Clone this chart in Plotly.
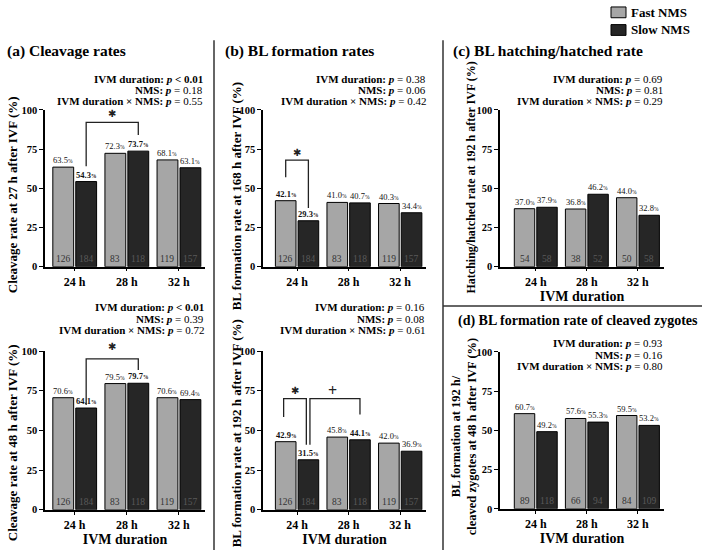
import plotly.graph_objects as go

# ---------------- data ----------------
categories = ["24 h", "28 h", "32 h"]
y_ticks = [0, 25, 50, 75, 100]

cleav27_fast = [63.5, 72.3, 68.1]
cleav27_slow = [54.3, 73.7, 63.1]
cleav48_fast = [70.6, 79.5, 70.6]
cleav48_slow = [64.1, 79.7, 69.4]
bl168_fast = [42.1, 41.0, 40.3]
bl168_slow = [29.3, 40.7, 34.4]
bl192_fast = [42.9, 45.8, 42.0]
bl192_slow = [31.5, 44.1, 36.9]
hatch_fast = [37.0, 36.8, 44.0]
hatch_slow = [37.9, 46.2, 32.8]
blcleav_fast = [60.7, 57.6, 59.5]
blcleav_slow = [49.2, 55.3, 53.2]

n_oocytes_fast = [126, 83, 119]
n_oocytes_slow = [184, 118, 157]
n_blast_fast = [54, 38, 50]
n_blast_slow = [58, 52, 58]
n_cleaved_fast = [89, 66, 84]
n_cleaved_slow = [118, 94, 109]

# ---------------- styling helpers ----------------
W, H = 702, 556
FONT = "Liberation Serif"
FAST_COLOR = "#a6a6a6"
SLOW_COLOR = "#262626"


def px(x):
    return x / W


def py(y):
    return 1 - y / H


def pline(label, op, val, bold_val=False):
    v = f"{op} {val}"
    if bold_val:
        return f"<b>{label}:</b> <b><i>p</i> {v}</b>"
    return f"<b>{label}:</b> <b><i>p</i></b> {v}"


panels = [
    dict(fast=cleav27_fast, slow=cleav27_slow, nf=n_oocytes_fast, ns=n_oocytes_slow,
         bold_fast=[], bold_slow=[0, 1],
         xd=(45, 205), yd=(107, 267), xr=(-0.57, 2.5),
         ytitle="<b>Cleavage rate at 27 h after IVF (%)</b>", yt_xy=(12, 194), yt_size=13,
         xtitle=False,
         plines=[pline("IVM duration", "&lt;", "0.01", True), pline("NMS", "=", "0.18"),
                 pline("IVM duration × NMS", "=", "0.55")],
         p_right=205, p_y=[75, 86.5, 98]),
    dict(fast=bl168_fast, slow=bl168_slow, nf=n_oocytes_fast, ns=n_oocytes_slow,
         bold_fast=[0], bold_slow=[0],
         xd=(263, 426), yd=(107, 267), xr=(-0.66, 2.5),
         ytitle="<b>BL formation rate at 168 h after IVF (%)</b>", yt_xy=(236, 195), yt_size=13,
         xtitle=False,
         plines=[pline("IVM duration", "=", "0.38"), pline("NMS", "=", "0.06"),
                 pline("IVM duration × NMS", "=", "0.42")],
         p_right=428, p_y=[75, 86.5, 98]),
    dict(fast=hatch_fast, slow=hatch_slow, nf=n_blast_fast, ns=n_blast_slow,
         bold_fast=[], bold_slow=[],
         xd=(500, 664), yd=(107, 267), xr=(-0.7, 2.51),
         ytitle="<b>Hatching/hatched rate at 192 h after IVF (%)</b>", yt_xy=(471, 176), yt_size=12,
         xtitle=True,
         plines=[pline("IVM duration", "=", "0.69"), pline("NMS", "=", "0.81"),
                 pline("IVM duration × NMS", "=", "0.29")],
         p_right=665, p_y=[75, 86.5, 98]),
    dict(fast=cleav48_fast, slow=cleav48_slow, nf=n_oocytes_fast, ns=n_oocytes_slow,
         bold_fast=[], bold_slow=[0, 1],
         xd=(45, 205), yd=(353, 515), xr=(-0.57, 2.5),
         ytitle="<b>Cleavage rate at 48 h after IVF (%)</b>", yt_xy=(12, 447), yt_size=13,
         xtitle=True,
         plines=[pline("IVM duration", "&lt;", "0.01", True), pline("NMS", "=", "0.39"),
                 pline("IVM duration × NMS", "=", "0.72")],
         p_right=206, p_y=[308, 320, 332]),
    dict(fast=bl192_fast, slow=bl192_slow, nf=n_oocytes_fast, ns=n_oocytes_slow,
         bold_fast=[0], bold_slow=[0, 1],
         xd=(263, 426), yd=(353, 515), xr=(-0.66, 2.5),
         ytitle="<b>BL formation rate at 192 h after IVF (%)</b>", yt_xy=(236, 437), yt_size=13,
         xtitle=True,
         plines=[pline("IVM duration", "=", "0.16"), pline("NMS", "=", "0.08"),
                 pline("IVM duration × NMS", "=", "0.61")],
         p_right=427, p_y=[308, 320, 332]),
    dict(fast=blcleav_fast, slow=blcleav_slow, nf=n_cleaved_fast, ns=n_cleaved_slow,
         bold_fast=[], bold_slow=[],
         xd=(500, 664), yd=(354, 514), xr=(-0.7, 2.51),
         ytitle="<b>BL formation at 192 h/<br>cleaved zygotes at 48 h after IVF (%)</b>",
         yt_xy=(464, 440), yt_size=12.5,
         xtitle=True,
         plines=[pline("IVM duration", "=", "0.93"), pline("NMS", "=", "0.16"),
                 pline("IVM duration × NMS", "=", "0.80")],
         p_right=665, p_y=[345, 357, 368.5]),
]

# significance brackets per panel: (panel index, path points [(x, y)...])
brackets = [
    (0, [(0.22, 64), (0.22, 92), (1.22, 92), (1.22, 84)]),
    (1, [(-0.22, 57), (-0.22, 68), (0.22, 68), (0.22, 37.5)]),
    (3, [(0.22, 66), (0.22, 95), (1.22, 95), (1.22, 88)]),
    (4, [(-0.26, 58.5), (-0.26, 70), (0.18, 70), (0.18, 41)]),
    (4, [(0.25, 41), (0.25, 70), (1.22, 70), (1.22, 60)]),
]
# (panel index, x, y, extra pixel shift, symbol)
sig_marks = [
    (0, 0.72, 97.5, 0, "✱"),
    (1, 0.0, 73, 0, "✱"),
    (3, 0.72, 99.5, 5, "✱"),
    (4, -0.04, 75, 0, "✱"),
    (4, 0.68, 75, 0, "+"),
]

fig = go.Figure()
layout_axes = {}
annotations = []
shapes = []
xpos = list(range(len(categories)))
offs = 0.22


def axname(k):
    return ("x" if k == 1 else f"x{k}"), ("y" if k == 1 else f"y{k}")


for k, p in enumerate(panels, start=1):
    xa, ya = axname(k)
    fig.add_trace(go.Bar(x=xpos, y=p["fast"], offset=-0.42, width=0.4, name="Fast NMS",
                         marker=dict(color=FAST_COLOR, line=dict(color="black", width=1)),
                         xaxis=xa, yaxis=ya, showlegend=False, hoverinfo="skip"))
    fig.add_trace(go.Bar(x=xpos, y=p["slow"], offset=0.02, width=0.4, name="Slow NMS",
                         marker=dict(color=SLOW_COLOR, line=dict(color="black", width=1)),
                         xaxis=xa, yaxis=ya, showlegend=False, hoverinfo="skip"))
    xkey = "xaxis" if k == 1 else f"xaxis{k}"
    ykey = "yaxis" if k == 1 else f"yaxis{k}"
    xax = dict(domain=[px(p["xd"][0]), px(p["xd"][1])], range=list(p["xr"]), anchor=ya,
               tickmode="array", tickvals=xpos, ticktext=categories,
               showline=True, linecolor="black", linewidth=1.5,
               ticks="outside", ticklen=3, tickwidth=1.2, tickcolor="black",
               tickfont=dict(family=FONT, size=12, color="black", weight="bold"),
               showgrid=False, zeroline=False, fixedrange=True)
    if p["xtitle"]:
        xax["title"] = dict(text="<b>IVM duration</b>", font=dict(family=FONT, size=14, color="black"),
                            standoff=2)
    layout_axes[xkey] = xax
    layout_axes[ykey] = dict(domain=[py(p["yd"][1]), py(p["yd"][0])], range=[0, 100], anchor=xa,
                             tickmode="array", tickvals=y_ticks,
                             showline=True, linecolor="black", linewidth=1.5,
                             ticks="outside", ticklen=4, tickwidth=1.2, tickcolor="black",
                             tickfont=dict(family=FONT, size=10.5, color="black", weight="bold"),
                             showgrid=False, zeroline=False, fixedrange=True)

    # bar labels
    for i, (vf, vs) in enumerate(zip(p["fast"], p["slow"])):
        for sgn, v, bolds, n, ncol in ((-1, vf, p["bold_fast"], p["nf"][i], "#333333"),
                                       (1, vs, p["bold_slow"], p["ns"][i], "#5a5a5a")):
            t = f"{v:.1f}<span style='font-size:5.5px'>%</span>"
            if i in bolds:
                t = f"<b>{t}</b>"
            annotations.append(dict(x=i + sgn * offs, y=v, xref=xa, yref=ya, text=t,
                                    showarrow=False, yanchor="bottom", yshift=0,
                                    font=dict(family=FONT, size=8.5, color="#111111")))
            annotations.append(dict(x=i + sgn * offs, y=0, xref=xa, yref=ya, text=str(n),
                                    showarrow=False, yanchor="bottom", yshift=1,
                                    font=dict(family=FONT, size=9.5, color=ncol)))

    # y title
    annotations.append(dict(x=px(p["yt_xy"][0]), y=py(p["yt_xy"][1]), xref="paper", yref="paper",
                            text=p["ytitle"], textangle=-90, showarrow=False,
                            xanchor="center", yanchor="middle",
                            font=dict(family=FONT, size=p["yt_size"], color="black")))
    # p-values
    for line, yy in zip(p["plines"], p["p_y"]):
        annotations.append(dict(x=px(p["p_right"]), y=py(yy), xref="paper", yref="paper",
                                text=line, showarrow=False, xanchor="right", yanchor="middle",
                                align="right", font=dict(family=FONT, size=11, color="black")))

for idx, pts in brackets:
    xa, ya = axname(idx + 1)
    path = "M " + " L ".join(f"{x},{y}" for x, y in pts)
    shapes.append(dict(type="path", path=path, xref=xa, yref=ya,
                       line=dict(color="#222222", width=1.3)))
for idx, xv, yv, shift, sym in sig_marks:
    xa, ya = axname(idx + 1)
    if sym == "+":
        annotations.append(dict(x=xv, y=yv, xref=xa, yref=ya, text="<b>+</b>", showarrow=False,
                                yanchor="middle", yshift=shift,
                                font=dict(family=FONT, size=16, color="#222222")))
    else:
        annotations.append(dict(x=xv, y=yv, xref=xa, yref=ya, text=sym, showarrow=False,
                                yanchor="middle", yshift=shift,
                                font=dict(family="DejaVu Sans", size=10, color="#222222")))

# panel titles
titles = [
    ("(a) Cleavage rates", 5, 47, 15.5),
    ("(b) BL formation rates", 223, 47, 15.5),
    ("(c) BL hatching/hatched rate", 451, 47, 15.5),
    ("(d) BL formation rate of cleaved zygotes", 456, 322, 14),
]
for txt, x, y, s in titles:
    annotations.append(dict(x=px(x), y=py(y), xref="paper", yref="paper", text=f"<b>{txt}</b>",
                            showarrow=False, xanchor="left", yanchor="middle",
                            font=dict(family=FONT, size=s, color="black")))

# separators
for x in (214, 443):
    shapes.append(dict(type="line", xref="paper", yref="paper", x0=px(x), x1=px(x),
                       y0=py(36), y1=py(556), line=dict(color="#333333", width=1.5)))
shapes.append(dict(type="line", xref="paper", yref="paper", x0=px(443), x1=px(702),
                   y0=py(307), y1=py(307), line=dict(color="#333333", width=1.5)))

# legend
legend_items = [("Fast NMS", FAST_COLOR, 7.5), ("Slow NMS", SLOW_COLOR, 25.5)]
for name, col, yc in legend_items:
    shapes.append(dict(type="rect", xref="paper", yref="paper", x0=px(611), x1=px(626),
                       y0=py(yc + 5.5), y1=py(yc - 5.5), fillcolor=col,
                       line=dict(color="black", width=1)))
    annotations.append(dict(x=px(629), y=py(yc), xref="paper", yref="paper", text=f"<b>{name}</b>",
                            showarrow=False, xanchor="left", yanchor="middle",
                            font=dict(family=FONT, size=13, color="black")))

fig.update_layout(width=W, height=H, margin=dict(l=0, r=0, t=0, b=0),
                  paper_bgcolor="white", plot_bgcolor="white", barmode="group",
                  showlegend=False, annotations=annotations, shapes=shapes, **layout_axes)

fig.write_html("out.html")
